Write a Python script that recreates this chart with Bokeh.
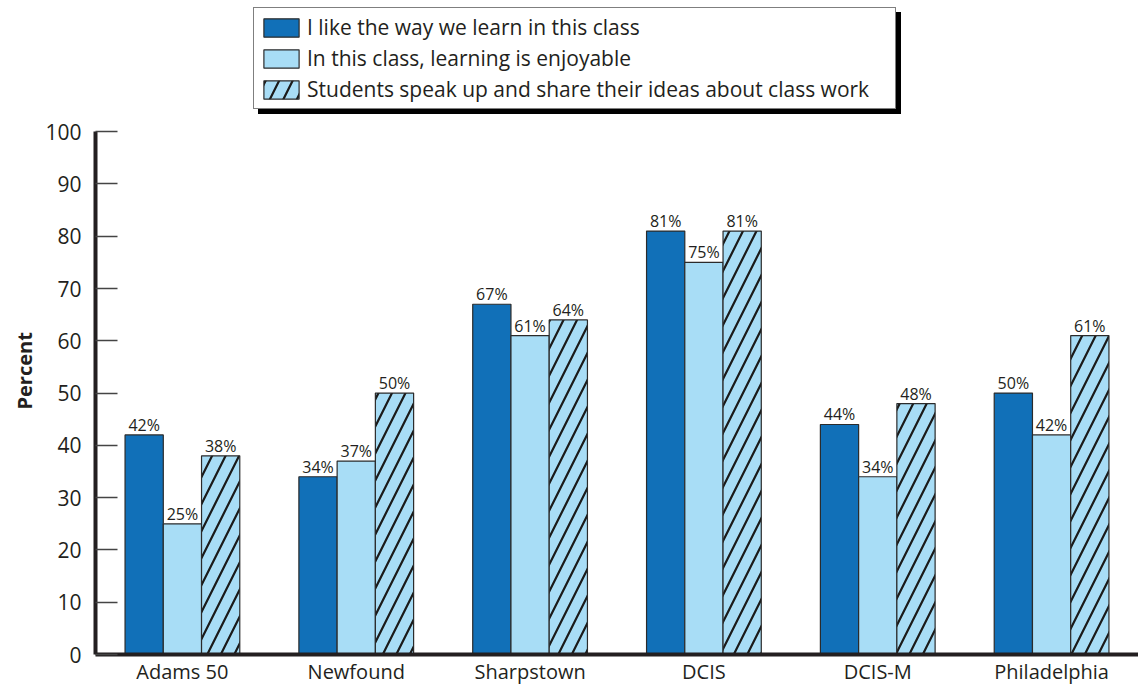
from bokeh.plotting import figure
from bokeh.models import FactorRange, Range1d, FixedTicker, Legend, LegendItem, ColumnDataSource, Title
from bokeh.transform import dodge
from bokeh.core.properties import value
from bokeh.embed import file_html
from bokeh.resources import INLINE

schools = ["Adams 50", "Newfound", "Sharpstown", "DCIS", "DCIS-M", "Philadelphia"]
like_way = [42, 34, 67, 81, 44, 50]
enjoyable = [25, 37, 61, 75, 34, 42]
speak_up = [38, 50, 64, 81, 48, 61]
series_names = [
    "I like the way we learn in this class",
    "In this class, learning is enjoyable",
    "Students speak up and share their ideas about class work",
]
y_ticks = [0, 10, 20, 30, 40, 50, 60, 70, 80, 90, 100]
y_title = "Percent"

FONT = "Open Sans"
TXT = "#231f20"
DARK = "#1170b8"
LIGHT = "#a8ddf6"
EDGE = "#2b2b2b"

src = ColumnDataSource(dict(
    school=schools,
    like=like_way, enj=enjoyable, spk=speak_up,
    like_lbl=[f"{v}%" for v in like_way],
    enj_lbl=[f"{v}%" for v in enjoyable],
    spk_lbl=[f"{v}%" for v in speak_up],
))

# frame extends to the top of the figure so the legend can sit above the 0-100 axis
p = figure(x_range=FactorRange(factors=schools), y_range=Range1d(0, 125.1),
           width=1138, height=687, output_backend="svg", toolbar_location=None,
           min_border_left=95, min_border_right=0, min_border_top=0, min_border_bottom=32)
p.outline_line_color = None
p.xgrid.visible = False
p.ygrid.visible = False
p.background_fill_color = "white"

W = 0.22
offs = [-W, 0.0, W]
r1 = p.vbar(x=dodge("school", offs[0], range=p.x_range), top="like", width=W, source=src,
            fill_color=DARK, line_color=EDGE, line_width=1.2)
r2 = p.vbar(x=dodge("school", offs[1], range=p.x_range), top="enj", width=W, source=src,
            fill_color=LIGHT, line_color=EDGE, line_width=1.2)
r3 = p.vbar(x=dodge("school", offs[2], range=p.x_range), top="spk", width=W, source=src,
            fill_color=LIGHT, line_color=EDGE, line_width=1.2,
            hatch_pattern="/", hatch_color="#1a1a1a", hatch_weight=2.2, hatch_scale=27)

for off, col, lbl in zip(offs, ["like", "enj", "spk"], ["like_lbl", "enj_lbl", "spk_lbl"]):
    p.text(x=dodge("school", off, range=p.x_range), y=col, text=lbl, source=src,
           text_align="center", text_baseline="bottom", y_offset=1,
           text_font=value(FONT), text_font_size="16px", text_color=TXT)

# axes
for ax in (p.xaxis, p.yaxis):
    ax.axis_line_width = 4
    ax.axis_line_color = TXT
    ax.major_label_text_font = FONT
    ax.major_label_text_color = TXT
    ax.minor_tick_line_color = None

p.yaxis.bounds = (0, 100)
p.yaxis.ticker = FixedTicker(ticks=y_ticks)
p.yaxis.major_tick_in = 22
p.yaxis.major_tick_out = 0
p.yaxis.major_tick_line_color = "#444444"
p.yaxis.major_tick_line_width = 1.5
p.yaxis.major_label_standoff = 14
p.yaxis.major_label_text_font_size = "21px"

p.xaxis.major_tick_line_color = None
p.xaxis.major_tick_in = 0
p.xaxis.major_tick_out = 0
p.xaxis.major_label_standoff = 3
p.xaxis.major_label_text_font_size = "20px"

# y-axis title placed along the 0-100 part of the axis
p.add_layout(Title(text=y_title, align="left", offset=245, standoff=9,
                   text_font=FONT, text_font_style="bold", text_font_size="20px",
                   text_color=TXT), "left")

# legend shadow (black box offset behind the legend)
LEG_W, LEG_H = 641, 100
LX, LY = 158, 545
dummy = p.quad(left=[], right=[], top=[], bottom=[], fill_color="black", line_color="black")
shadow = Legend(items=[LegendItem(label=value(""), renderers=[dummy])],
                location=(LX + 5, LY - 5), orientation="vertical",
                glyph_width=LEG_W, glyph_height=LEG_H, label_width=0, label_height=0,
                label_standoff=0, padding=0, spacing=0, margin=0,
                background_fill_color="black", background_fill_alpha=1,
                border_line_color="black", border_line_width=1)
p.add_layout(shadow, "center")

legend = Legend(items=[LegendItem(label=series_names[0], renderers=[r1]),
                       LegendItem(label=series_names[1], renderers=[r2]),
                       LegendItem(label=series_names[2], renderers=[r3])],
                location=(LX, LY), orientation="vertical",
                glyph_width=44, glyph_height=23, label_height=28, label_width=583,
                label_standoff=4, padding=5, spacing=3, margin=0,
                label_text_font=FONT, label_text_font_size="21px", label_text_color=TXT,
                background_fill_color="white", background_fill_alpha=1,
                border_line_color="black", border_line_width=1.5)
p.add_layout(legend, "center")

open("out.html", "w").write(file_html(p, INLINE))
